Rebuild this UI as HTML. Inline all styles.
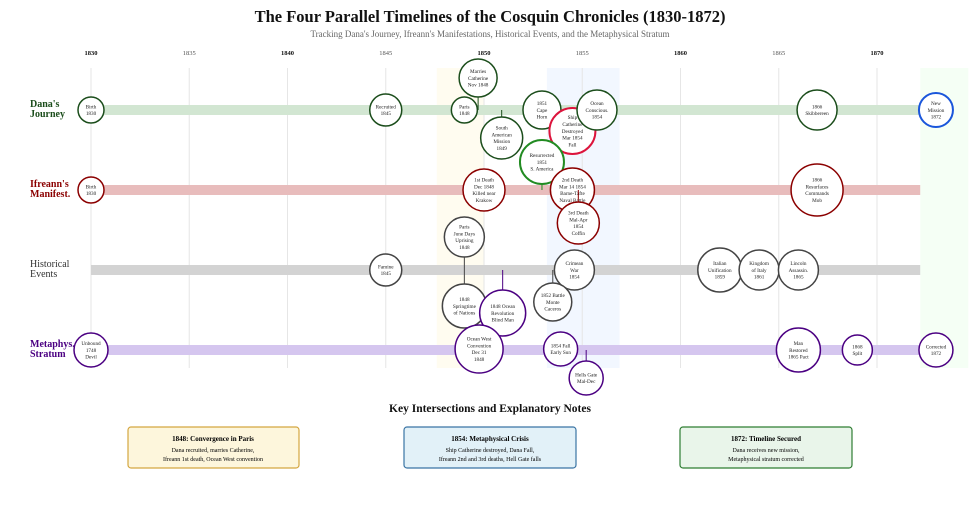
<!DOCTYPE html>
<html><head><meta charset="utf-8"><style>
body{margin:0;background:#fff;width:980px;height:522px;overflow:hidden;font-family:"Liberation Serif",serif}
svg{display:block}
</style></head><body>
<svg id="chart" width="980" height="522" viewBox="0 0 980 522">
<text x="490" y="22" text-anchor="middle" font-size="16.5" font-weight="bold" fill="#111">The Four Parallel Timelines of the Cosquin Chronicles (1830-1872)</text>
<text x="490" y="37" text-anchor="middle" font-size="9" fill="#666">Tracking Dana's Journey, Ifreann's Manifestations, Historical Events, and the Metaphysical Stratum</text>
<g id="bg"></g><g id="grid"></g><g id="bands"></g><g id="labels"></g><g id="events"></g>
<text x="490" y="412" text-anchor="middle" font-size="11.5" font-weight="bold" fill="#111">Key Intersections and Explanatory Notes</text>
<g>
<rect x="128" y="427" width="171" height="41" rx="3" fill="#fdf6dc" stroke="#d4a640" stroke-width="1.2"/>
<text x="213" y="441" text-anchor="middle" font-size="7" font-weight="bold">1848: Convergence in Paris</text>
<text x="213" y="452" text-anchor="middle" font-size="6">Dana recruited, marries Catherine,</text>
<text x="213" y="461" text-anchor="middle" font-size="6">Ifreann 1st death, Ocean West convention</text></g>
<g>
<rect x="404" y="427" width="172" height="41" rx="3" fill="#e2f1f8" stroke="#3a74a4" stroke-width="1.2"/>
<text x="490" y="441" text-anchor="middle" font-size="7" font-weight="bold">1854: Metaphysical Crisis</text>
<text x="490" y="452" text-anchor="middle" font-size="6">Ship Catherine destroyed, Dana Fall,</text>
<text x="490" y="461" text-anchor="middle" font-size="6">Ifreann 2nd and 3rd deaths, Hell Gate falls</text></g>
<g>
<rect x="680" y="427" width="172" height="41" rx="3" fill="#e9f5ea" stroke="#2e7d32" stroke-width="1.2"/>
<text x="766" y="441" text-anchor="middle" font-size="7" font-weight="bold">1872: Timeline Secured</text>
<text x="766" y="452" text-anchor="middle" font-size="6">Dana receives new mission,</text>
<text x="766" y="461" text-anchor="middle" font-size="6">Metaphysical stratum corrected</text></g>
</svg>
<script>
const tickYears=[1830,1835,1840,1845,1850,1855,1860,1865,1870];
const trackNames=["Dana's|Journey","Ifreann's|Manifest.","Historical|Events","Metaphys.|Stratum"];
const eventLabels=["Birth|1830","Recruited|1845","Paris|1848","Marries|Catherine|Nov 1848","South|American|Mission|1849","1851|Cape|Horn","Ship|Catherine|Destroyed|Mar 1854|Fall","Ocean|Conscious.|1854","1866|Skibbereen","New|Mission|1872",
"Birth|1830","Resurrected|1851|S. America","1st Death|Dec 1848|Killed near|Krakow","2nd Death|Mar 14 1854|Barne-Tafte|Naval Battle","3rd Death|Mal-Apr|1854|Coffin","1866|Resurfaces|Commands|Mob",
"Paris|June Days|Uprising|1848","Famine|1845","Crimean|War|1854","1848|Springtime|of Nations","1848 Ocean|Revolution|Blind Man","1852 Battle|Monte|Caceros","Italian|Unification|1859","Kingdom|of Italy|1861","Lincoln|Assassin.|1865",
"Unbound|1748|Devil","Ocean West|Convention|Dec 31|1848","1854 Fall|Early Sun","Hells Gate|Mal-Dec","Man|Restored|1865 Pact","1868|Split","Corrected|1872"];
const eventYears=[1830,1845,1849,1849.7,1850.9,1852.95,1854.5,1855.75,1866.95,1873,
1830,1852.95,1850,1854.5,1854.8,1866.95,
1849,1845,1854.6,1849,1850.95,1853.5,1862,1864,1866,
1830,1849.75,1853.9,1855.2,1866,1869,1873];
const eventTracks=[0,0,0,0,0,0,0,0,0,0, 1,1,1,1,1,1, 2,2,2,2,2,2,2,2,2, 3,3,3,3,3,3,3];
const eventOffsets=[0,0,0,-32,28,0,21,0,0,0, 0,-28,0,0,33,0, -33,0,0,36,43,32,0,0,0, 0,-1,-1,28,0,0,0];
const eventSizes=[13,16,13,19,21,19,23,20,20,17, 13,22,21,22,21,26, 20,16,20,22,23,19,22,20,20, 17,24,17,17,22,15,17];
const eventColors=["g","g","g","g","g","g","r2","g","g","b", "r","g2","r","r","r","r", "k","k","k","k","p","k","k","k","k", "p","p","p","p","p","p","p"];

const NS="http://www.w3.org/2000/svg";
const x=y=>91+(y-1830)*19.65;
const trackY=[110,190,270,350];
const xEnd=x(1872.2);
const col={g:"#1b4d1b",g2:"#228b22",r:"#8b0000",r2:"#dc143c",k:"#444",p:"#4b0082",b:"#1a56db"};
const bandCol=["#d2e6d2","#e8bcbc","#d3d3d3","#d5c6ef"];
const labCol=["#1b4d1b","#8b0000","#333","#4b0082"];
function mk(t,a,p){const e=document.createElementNS(NS,t);for(const k in a)e.setAttribute(k,a[k]);p.appendChild(e);return e;}
const bg=document.getElementById('bg');
let r=mk('rect',{x:x(1847.6),y:68,width:x(1850)-x(1847.6),height:300,fill:"#fffcf0"},bg);

r=mk('rect',{x:x(1853.2),y:68,width:x(1856.9)-x(1853.2),height:300,fill:"#f2f7ff"},bg);

r=mk('rect',{x:xEnd,y:68,width:48,height:300,fill:"#f5fff5"},bg);

const grid=document.getElementById('grid');
tickYears.forEach(t=>{
 const l=mk('line',{x1:x(t),x2:x(t),y1:68,y2:368,stroke:"#e6e6e6","stroke-width":1},grid);
 
 const tx=mk('text',{x:x(t),y:55,"text-anchor":"middle","font-size":6.5,"font-weight":t%10==0?"bold":"normal",fill:t%10==0?"#111":"#555"},grid);
 tx.textContent=t;
});
const bands=document.getElementById('bands'),labels=document.getElementById('labels');
trackNames.forEach((n,i)=>{
 const b=mk('rect',{x:x(1830),y:trackY[i]-5,width:xEnd-x(1830),height:10,fill:bandCol[i]},bands);
 
 const t=mk('text',{x:30,y:trackY[i]-3,"font-size":10,"font-weight":i==2?"normal":"bold",fill:labCol[i]},labels);
 
 n.split('|').forEach((s,j)=>{const ts=mk('tspan',{x:30,dy:j?10:0},t);ts.textContent=s;});
});
const ev=document.getElementById('events');
eventLabels.forEach((lab,i)=>{
 const cx=x(eventYears[i]),ty=trackY[eventTracks[i]],cy=ty+eventOffsets[i],rr=eventSizes[i],c=col[eventColors[i]];
 const g=mk('g',{},ev);
 
 
 if(Math.abs(eventOffsets[i])>3){mk('line',{x1:cx,x2:cx,y1:ty,y2:cy,stroke:c,"stroke-width":1},g);}
 mk('circle',{cx:cx,cy:cy,r:rr,fill:"#fff",stroke:c,"stroke-width":eventColors[i].length>1||eventColors[i]=="b"?2:1.5},g);
 const parts=lab.split('|');
 const t=mk('text',{x:cx,y:cy-(parts.length-1)*3.4+1.8,"text-anchor":"middle","font-size":5.2,fill:"#222"},g);
 parts.forEach((s,j)=>{const ts=mk('tspan',{x:cx,dy:j?6.8:0},t);ts.textContent=s;});
});
</script>
</body></html>
